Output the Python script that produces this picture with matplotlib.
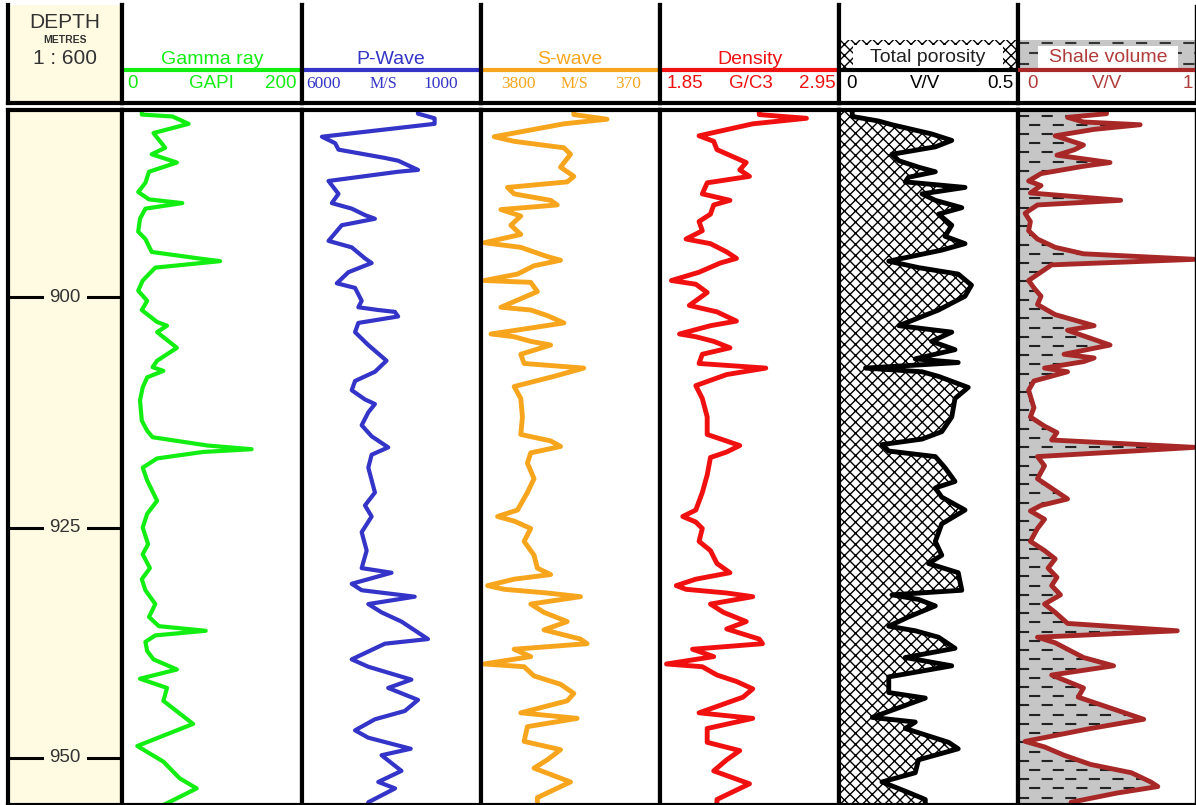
import numpy as np
import matplotlib.pyplot as plt
from matplotlib.patches import Rectangle

plt.rcParams['font.family'] = ['Liberation Sans', 'DejaVu Sans']
plt.rcParams['hatch.linewidth'] = 1.0
plt.rcParams['hatch.color'] = 'black'
plt.rcParams['lines.scale_dashes'] = False

# ---------------------------------------------------------------
# log data (depth in metres)
top_depth, base_depth = 879.7, 955.1
depth_ticks = [900, 925, 950]

gr_depth = [879.7, 880.2, 880.4, 881.2, 882.2, 883.8, 884.5, 885.4, 886.4, 887.6,
            888.6, 889.4, 889.8, 890.4, 891.5, 892.9, 893.7, 895.1, 895.8, 896.1,
            896.8, 898.2, 899.3, 900.4, 901.4, 902.7, 903.1, 903.8, 905.5, 906.9,
            907.6, 908.0, 908.7, 909.8, 911.2, 913.4, 914.5, 915.2, 916.1, 916.5,
            916.8, 917.5, 918.5, 919.9, 922.1, 923.5, 925.0, 926.8, 927.9, 929.4,
            930.6, 931.8, 933.3, 934.7, 935.7, 936.2, 936.7, 937.4, 938.4, 939.3,
            940.4, 941.4, 942.4, 943.8, 946.3, 948.7, 950.4, 952.2, 953.3, 955.1]
gr_api = [22, 22, 56, 74, 35, 48, 33, 61, 30, 26,
          18, 30, 67, 26, 20, 18, 26, 33, 85, 109,
          37, 23, 18, 28, 22, 39, 50, 39, 61, 39,
          34, 46, 28, 23, 20, 22, 28, 34, 95, 144,
          90, 39, 23, 28, 39, 28, 23, 29, 23, 31,
          22, 26, 37, 30, 41, 93, 37, 26, 28, 35,
          61, 20, 50, 46, 79, 17, 46, 64, 83, 46]

vp_depth = [879.7, 880.1, 880.6, 881.2, 882.6, 883.3, 884.0, 884.9, 885.2, 886.2,
            886.4, 887.4, 888.8, 889.8, 890.4, 891.1, 891.5, 892.2, 893.9, 894.6,
            895.8, 896.3, 897.3, 898.5, 899.0, 900.4, 901.1, 901.4, 901.6, 902.1,
            902.8, 903.8, 905.2, 906.9, 908.1, 909.1, 910.1, 911.1, 911.6, 912.5,
            913.9, 915.1, 916.3, 917.1, 918.5, 921.2, 922.6, 923.8, 925.5, 927.5,
            929.4, 929.9, 930.3, 931.1, 931.8, 932.5, 933.3, 934.2, 935.2, 937.1,
            937.6, 939.3, 940.1, 941.5, 942.4, 943.7, 944.9, 945.8, 947.0, 947.8,
            949.0, 949.7, 951.4, 952.6, 953.3, 954.8, 955.1]
vp_ms = [2760, 2760, 2296, 2296, 5444, 5074, 4981, 3685, 3315, 2759,
         3315, 5259, 4981, 5167, 4611, 4241, 3963, 4889, 5259, 4611,
         4241, 4055, 4704, 5028, 4518, 4333, 4426, 3870, 3407, 3315,
         4426, 4518, 4148, 3639, 3963, 4518, 4611, 4241, 3963, 4148,
         4333, 4055, 3592, 4055, 4148, 3963, 4241, 4055, 4333, 4194,
         4333, 3500, 3870, 4611, 4333, 2852, 4148, 3778, 3222, 2481,
         3685, 4611, 4148, 2944, 3593, 2759, 3129, 3963, 4518, 4148,
         2963, 3778, 3222, 3870, 3400, 4148, 4148]

vs_depth = [879.7, 880.2, 880.7, 881.2, 882.6, 883.1, 883.8, 884.5, 885.9, 886.9,
            887.5, 888.1, 888.8, 889.5, 890.0, 890.5, 891.2, 892.2, 893.2, 894.1,
            894.6, 895.6, 896.0, 896.6, 897.5, 898.2, 898.4, 899.4, 901.1, 901.4,
            902.0, 902.8, 903.3, 904.0, 904.3, 904.8, 905.2, 906.2, 907.2, 907.7,
            908.6, 909.7, 911.0, 913.0, 914.9, 915.6, 916.2, 916.9, 918.0, 919.7,
            921.2, 923.1, 923.8, 924.3, 925.1, 926.5, 928.0, 929.4, 930.1, 930.6,
            931.3, 931.7, 932.1, 932.5, 933.3, 934.2, 935.2, 936.1, 937.1, 937.6,
            938.2, 939.0, 939.8, 940.1, 941.1, 942.0, 943.0, 943.8, 945.1, 945.7,
            946.6, 948.2, 949.1, 950.2, 951.1, 952.6, 954.3, 955.1]
vs_ms = [2021, 2021, 1386, 2212, 3546, 3165, 2212, 2085, 2276, 2021,
         2148, 3292, 3165, 2466, 2339, 3419, 3038, 3228, 3038, 3736,
         3038, 2530, 2276, 2784, 3101, 3736, 2847, 2720, 3419, 2847,
         2530, 2212, 2784, 3609, 3165, 2847, 2466, 3038, 2974, 1831,
         2403, 3165, 3038, 3006, 3038, 2466, 2276, 2847, 2911, 2784,
         2911, 3101, 3482, 3165, 2847, 2974, 2784, 2720, 2466, 3165,
         3673, 3355, 2530, 1894, 2847, 2593, 2148, 2593, 1894, 1767,
         3165, 2847, 3736, 2974, 2784, 2276, 2021, 2148, 3038, 1958,
         2911, 2974, 2276, 2530, 2784, 2085, 2720, 2720]

rhob_depth = [879.7, 880.2, 880.6, 881.2, 882.5, 883.1, 884.0, 885.4, 886.2, 886.9,
              887.6, 888.8, 889.5, 890.0, 891.0, 891.8, 892.8, 893.7, 894.2, 895.1,
              895.8, 896.3, 897.3, 898.2, 898.6, 899.5, 900.9, 901.6, 902.6, 903.1,
              904.0, 904.3, 904.8, 905.5, 906.2, 907.2, 907.7, 908.4, 909.6, 911.0,
              913.0, 914.9, 916.1, 916.8, 917.4, 919.3, 921.2, 923.1, 923.8, 924.4,
              925.1, 926.5, 927.5, 928.9, 929.9, 930.6, 931.3, 931.7, 932.1, 932.5,
              933.3, 934.2, 935.2, 936.0, 937.1, 937.6, 938.2, 939.0, 939.8, 940.1,
              941.0, 941.7, 942.5, 943.4, 945.1, 945.7, 946.8, 948.3, 949.2, 950.2,
              951.4, 952.8, 954.5, 955.1]
rhob_gcc = [2.46, 2.46, 2.75, 2.42, 2.09, 2.18, 2.20, 2.38, 2.34, 2.40,
            2.14, 2.11, 2.28, 2.18, 2.16, 2.09, 2.11, 2.01, 2.16, 2.26,
            2.32, 2.22, 2.09, 1.92, 2.07, 2.14, 2.03, 2.20, 2.32, 2.16,
            1.97, 2.07, 2.18, 2.28, 2.11, 2.09, 2.50, 2.26, 2.07, 2.11,
            2.14, 2.14, 2.34, 2.26, 2.16, 2.14, 2.11, 2.07, 1.99, 2.07,
            2.11, 2.09, 2.16, 2.20, 2.28, 2.07, 1.95, 2.01, 2.26, 2.42,
            2.16, 2.24, 2.38, 2.26, 2.46, 2.48, 2.05, 2.18, 1.89, 2.11,
            2.20, 2.32, 2.42, 2.36, 2.09, 2.42, 2.14, 2.14, 2.34, 2.26,
            2.18, 2.40, 2.20, 2.20]

phit_depth = [879.7, 880.4, 880.9, 881.3, 882.3, 883.0, 883.7, 884.5, 885.2, 885.9,
              886.4, 887.0, 887.5, 888.1, 888.8, 889.5, 890.3, 891.0, 892.2, 893.4,
              894.2, 894.9, 896.1, 896.8, 897.5, 898.7, 899.9, 901.4, 903.1, 903.8,
              904.8, 905.7, 906.7, 907.1, 907.7, 908.1, 908.6, 909.8, 911.0, 913.0,
              914.6, 915.4, 916.0, 916.7, 917.3, 918.5, 920.0, 920.7, 921.7, 923.1,
              924.6, 926.5, 928.0, 928.9, 929.9, 931.8, 932.3, 932.8, 933.5, 934.7,
              935.7, 936.2, 936.9, 938.1, 939.1, 940.0, 941.2, 942.9, 943.5, 945.6,
              946.1, 946.8, 948.3, 949.0, 950.2, 951.6, 952.6, 953.6, 954.5, 955.1]
phit_vv = [0.037, 0.037, 0.111, 0.148, 0.259, 0.315, 0.269, 0.148, 0.167, 0.222,
           0.269, 0.194, 0.185, 0.352, 0.232, 0.269, 0.343, 0.278, 0.315, 0.296,
           0.352, 0.287, 0.139, 0.222, 0.333, 0.370, 0.352, 0.278, 0.167, 0.315,
           0.259, 0.324, 0.213, 0.333, 0.074, 0.232, 0.278, 0.361, 0.324, 0.315,
           0.287, 0.232, 0.120, 0.139, 0.269, 0.296, 0.324, 0.269, 0.287, 0.352,
           0.287, 0.269, 0.287, 0.250, 0.333, 0.343, 0.148, 0.222, 0.269, 0.194,
           0.139, 0.213, 0.278, 0.324, 0.185, 0.315, 0.139, 0.139, 0.241, 0.093,
           0.213, 0.185, 0.306, 0.333, 0.222, 0.213, 0.120, 0.185, 0.241, 0.241]

vsh_depth = [879.7, 880.1, 880.5, 881.0, 881.3, 881.8, 882.5, 883.5, 884.0, 884.6,
             885.4, 885.8, 886.6, 887.4, 887.9, 888.7, 889.5, 890.0, 890.9, 891.8,
             892.8, 893.7, 894.6, 895.3, 895.9, 896.5, 898.2, 899.0, 899.9, 900.8,
             901.9, 903.1, 903.6, 905.2, 906.2, 906.6, 907.0, 907.7, 908.1, 909.1,
             910.1, 912.0, 913.0, 914.0, 914.7, 915.5, 916.3, 917.3, 918.3, 919.7,
             921.9, 922.6, 923.2, 924.1, 925.1, 926.5, 927.5, 928.4, 929.4, 930.4,
             931.3, 932.3, 933.3, 934.2, 935.4, 936.2, 936.9, 937.5, 939.1, 940.0,
             941.0, 942.4, 943.4, 945.8, 946.8, 948.2, 948.8, 949.7, 950.7, 951.6,
             952.6, 953.1, 953.8, 954.8, 955.1]
vsh_vv = [0.50, 0.50, 0.28, 0.37, 0.69, 0.43, 0.21, 0.37, 0.32, 0.22,
          0.52, 0.37, 0.13, 0.06, 0.13, 0.07, 0.58, 0.11, 0.04, 0.07,
          0.06, 0.11, 0.21, 0.37, 1.00, 0.19, 0.06, 0.09, 0.13, 0.11,
          0.21, 0.43, 0.28, 0.52, 0.26, 0.43, 0.37, 0.15, 0.28, 0.09,
          0.06, 0.09, 0.07, 0.15, 0.22, 0.19, 1.00, 0.11, 0.15, 0.11,
          0.28, 0.13, 0.07, 0.15, 0.11, 0.07, 0.15, 0.21, 0.17, 0.22,
          0.19, 0.24, 0.15, 0.21, 0.28, 0.90, 0.11, 0.21, 0.37, 0.54,
          0.19, 0.37, 0.34, 0.71, 0.41, 0.04, 0.15, 0.26, 0.41, 0.64,
          0.75, 0.79, 0.56, 0.30, 0.30]

# ---------------------------------------------------------------
# layout in pixels
W, H = 1196, 805
HEAD_TOP, HEAD_BOT, LOG_TOP = 5, 103, 110
edges = [8, 122, 302, 481, 660, 839, 1018, 1195]

GREEN, BLUE, ORANGE, RED, BROWN = '#12ee12', '#3434c8', '#f7a51c', '#f01010', '#a82828'
BEIGE = '#fffbe3'
SHALE_GREY = '#c6c6c6'

fig = plt.figure(figsize=(W / 100, H / 100), dpi=100)


def box(x0, y0, x1, y1):
    return [x0 / W, 1 - y1 / H, (x1 - x0) / W, (y1 - y0) / H]


def header_axes(x0, x1):
    ax = fig.add_axes(box(x0, HEAD_TOP, x1, HEAD_BOT))
    ax.set_xlim(x0, x1)
    ax.set_ylim(HEAD_BOT, HEAD_TOP)
    ax.set_xticks([])
    ax.set_yticks([])
    ax.spines['top'].set_visible(False)
    for s in ('left', 'right', 'bottom'):
        ax.spines[s].set_linewidth(3)
    return ax


def log_axes(x0, x1, xlim):
    ax = fig.add_axes(box(x0, LOG_TOP, x1, H))
    ax.set_xlim(*xlim)
    ax.set_ylim(base_depth, top_depth)
    ax.set_xticks([])
    ax.set_yticks([])
    for s in ax.spines.values():
        s.set_linewidth(3)
    return ax


def scale_labels(ax, xs, texts, color, serif=False, unit_size=13.5):
    fam = ['Liberation Serif'] if serif else ['Liberation Sans']
    size = 12.5 if serif else 13.5
    ax.text(xs[0], 84, texts[0], ha='left', va='center', color=color, family=fam,
            fontsize=size, zorder=4)
    ax.text(xs[1], 84, texts[1], ha='center', va='center', color=color, family=fam,
            fontsize=unit_size, zorder=4)
    ax.text(xs[2], 84, texts[2], ha='right', va='center', color=color, family=fam,
            fontsize=size, zorder=4)


def colour_header(x0, x1, title, title_x, color, xs, texts, serif=False, unit_size=13.5):
    ax = header_axes(x0, x1)
    ax.plot([x0, x1], [70, 70], color=color, lw=3, solid_capstyle='butt')
    ax.text(title_x, 59, title, ha='center', va='center', color=color, fontsize=14)
    scale_labels(ax, xs, texts, color, serif, unit_size)
    return ax


# depth header
axd = header_axes(edges[0], edges[1])
axd.set_facecolor(BEIGE)
axd.text(65, 22, 'DEPTH', ha='center', va='center', fontsize=15, color='#333333')
axd.text(65, 40, 'METRES', ha='center', va='center', fontsize=7.5, weight='bold', color='#333333')
axd.text(65, 58, '1 : 600', ha='center', va='center', fontsize=15, color='#333333')

colour_header(edges[1], edges[2], 'Gamma ray', 212, GREEN, (127, 211, 297), ('0', 'GAPI', '200'))
colour_header(edges[2], edges[3], 'P-Wave', 391, BLUE, (306, 383, 458), ('6000', 'M/S', '1000'),
              serif=True, unit_size=11.5)
colour_header(edges[3], edges[4], 'S-wave', 570, ORANGE, (501, 574, 641), ('3800', 'M/S', '370'),
              serif=True, unit_size=11.5)
colour_header(edges[4], edges[5], 'Density', 750, RED, (667, 751, 836), ('1.85', 'G/C3', '2.95'))

# porosity header: cross-hatched band with a white label box
axp = header_axes(edges[5], edges[6])
axp.add_patch(Rectangle((edges[5], 40), edges[6] - edges[5], 30, facecolor='white',
                        edgecolor='black', hatch='xxx', lw=0, zorder=1))
axp.add_patch(Rectangle((853, 45), 150, 23, facecolor='white', edgecolor='none', zorder=3))
axp.plot([edges[5], edges[6]], [70, 70], color='black', lw=3, solid_capstyle='butt')
axp.text(928, 57, 'Total porosity', ha='center', va='center', fontsize=14, color='#222222',
         zorder=4)
scale_labels(axp, (846, 925, 1014), ('0', 'V/V', '0.5'), 'black')

# shale header: grey band with dashes
axs = header_axes(edges[6], edges[7])
axs.spines['right'].set_linewidth(1)
band = Rectangle((edges[6], 40), edges[7] - edges[6], 30, facecolor=SHALE_GREY,
                 edgecolor='none', zorder=1)
axs.add_patch(band)
hd = axs.hlines([43, 53, 64], edges[6], edges[7], colors='#333333', lw=1.5,
                linestyles=[(0, (8, 9)), (9, (8, 9)), (0, (8, 9))], zorder=2)
hd.set_clip_path(band)
axs.add_patch(Rectangle((1038, 46), 140, 22, facecolor='white', edgecolor='none', zorder=3))
axs.plot([edges[6], edges[7]], [70, 70], color=BROWN, lw=3, solid_capstyle='butt', zorder=3)
axs.text(1108, 57, 'Shale volume', ha='center', va='center', fontsize=14, color='#b03c3c',
         zorder=4)
scale_labels(axs, (1027, 1107, 1193), ('0', 'V/V', '1'), '#b03c3c')

# ---------------------------------------------------------------
# depth track
ax0 = log_axes(edges[0], edges[1], (0, 1))
ax0.set_facecolor(BEIGE)
for d in depth_ticks:
    ax0.axhline(d, 0, 0.30, color='black', lw=2.2)
    ax0.axhline(d, 0.70, 1, color='black', lw=2.2)
    ax0.text(0.5, d, str(d), transform=ax0.get_yaxis_transform(), ha='center', va='center',
             fontsize=13.5, color='#333333')

# curve tracks
ax1 = log_axes(edges[1], edges[2], (0, 200))
ax1.plot(gr_api, gr_depth, color=GREEN, lw=3)

ax2 = log_axes(edges[2], edges[3], (6000, 1000))
ax2.plot(vp_ms, vp_depth, color=BLUE, lw=3)

ax3 = log_axes(edges[3], edges[4], (3800, 370))
ax3.plot(vs_ms, vs_depth, color=ORANGE, lw=3.5)

ax4 = log_axes(edges[4], edges[5], (1.85, 2.95))
ax4.plot(rhob_gcc, rhob_depth, color=RED, lw=3.5)

ax5 = log_axes(edges[5], edges[6], (0, 0.5))
ax5.fill_betweenx(phit_depth, 0, phit_vv, facecolor='white', edgecolor='black',
                  hatch='xxx', lw=0)
ax5.plot(phit_vv, phit_depth, color='black', lw=3.5)

ax6 = log_axes(edges[6], edges[7], (0, 1))
ax6.spines['right'].set_linewidth(1)
fill = ax6.fill_betweenx(vsh_depth, 0, vsh_vv, color=SHALE_GREY, lw=0)
rows = np.arange(880.3, base_depth, 1.0)
dash_a = ax6.hlines(rows[::2], 0, 1, colors='#222222', lw=1.5, linestyles=[(0, (8, 9))])
dash_b = ax6.hlines(rows[1::2], 0, 1, colors='#222222', lw=1.5, linestyles=[(9, (8, 9))])
for dc in (dash_a, dash_b):
    dc.set_clip_path(fill.get_paths()[0], ax6.transData)
ax6.plot(vsh_vv, vsh_depth, color=BROWN, lw=3.5)

fig.savefig('out.png', dpi=100)
